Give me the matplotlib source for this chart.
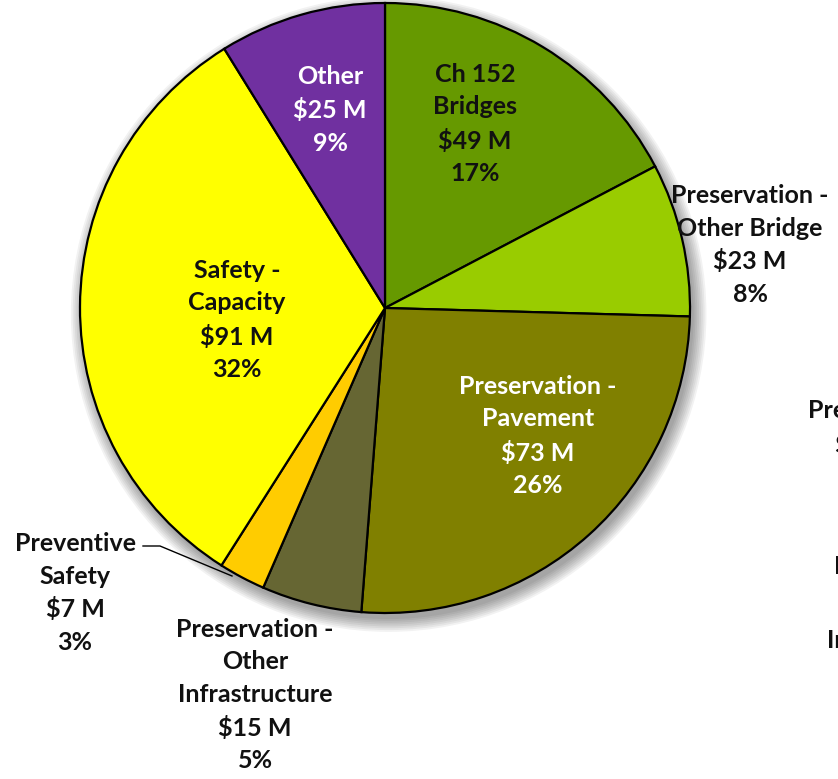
import matplotlib.pyplot as plt
from matplotlib.patches import Circle

# data, read clockwise from 12 o'clock
labels = ['Ch 152\nBridges', 'Preservation -\nOther Bridge', 'Preservation -\nPavement',
          'Preservation -\nOther\nInfrastructure', 'Preventive\nSafety', 'Safety -\nCapacity', 'Other']
amounts = [49, 23, 73, 15, 7, 91, 25]
percents = [17, 8, 26, 5, 3, 32, 9]
colors = ['#669900', '#99CC00', '#808000', '#666633', '#FFCC00', '#FFFF00', '#7030A0']

plt.rcParams['font.family'] = ['Lato', 'DejaVu Sans']

fig = plt.figure(figsize=(8.38, 7.79), dpi=100)
W, H = 838, 779
cx, cy, r = 385, 308, 305
ax = fig.add_axes([(cx - r) / W, (H - cy - r) / H, 2 * r / W, 2 * r / H])
ax.set_xlim(-1, 1)
ax.set_ylim(-1, 1)
ax.set_aspect('equal')
ax.axis('off')

# soft shadow under the pie
for i in range(8):
    ax.add_patch(Circle((0.012, -0.02), 1.0 + 0.006 * i, color='black',
                        alpha=0.05, lw=0, zorder=0, clip_on=False))

ax.pie(amounts, colors=colors, startangle=90, counterclock=False, radius=1,
       wedgeprops=dict(edgecolor='black', linewidth=1.6), frame=False)
ax.set_xlim(-1, 1)
ax.set_ylim(-1, 1)


def px(x, y):
    return (x - cx) / r, (cy - y) / r


fs = 18
ls = 1.5
label_pos = [(475, 124), (750, 245), (538, 436), (255, 695), (75, 593), (237, 320), (330, 110)]
text_colors = ['#111111', '#111111', 'white', '#111111', '#111111', '#111111', 'white']
for lab, amt, pct, pos, tc in zip(labels, amounts, percents, label_pos, text_colors):
    x, y = px(*pos)
    ax.text(x, y, f'{lab}\n${amt} M\n{pct}%', ha='center', va='center', fontsize=fs,
            fontweight='bold', color=tc, linespacing=ls, clip_on=False, zorder=5)

# leader line for Preventive Safety
lx, ly = zip(px(143, 546), px(160, 546), px(232, 576))
ax.plot(lx, ly, color='black', lw=1, clip_on=False, zorder=4)

# fragments of the neighbouring chart cut off at the right edge
for t, x, y in [('Preservation -', 808, 410), ('$', 834, 445), ('Pavement', 834, 567), ('Infrastructure', 827, 640)]:
    fig.text(x / W, 1 - y / H, t, ha='left', va='center', fontsize=fs,
             fontweight='bold', color='#111111')

fig.savefig('out.png', dpi=100)
